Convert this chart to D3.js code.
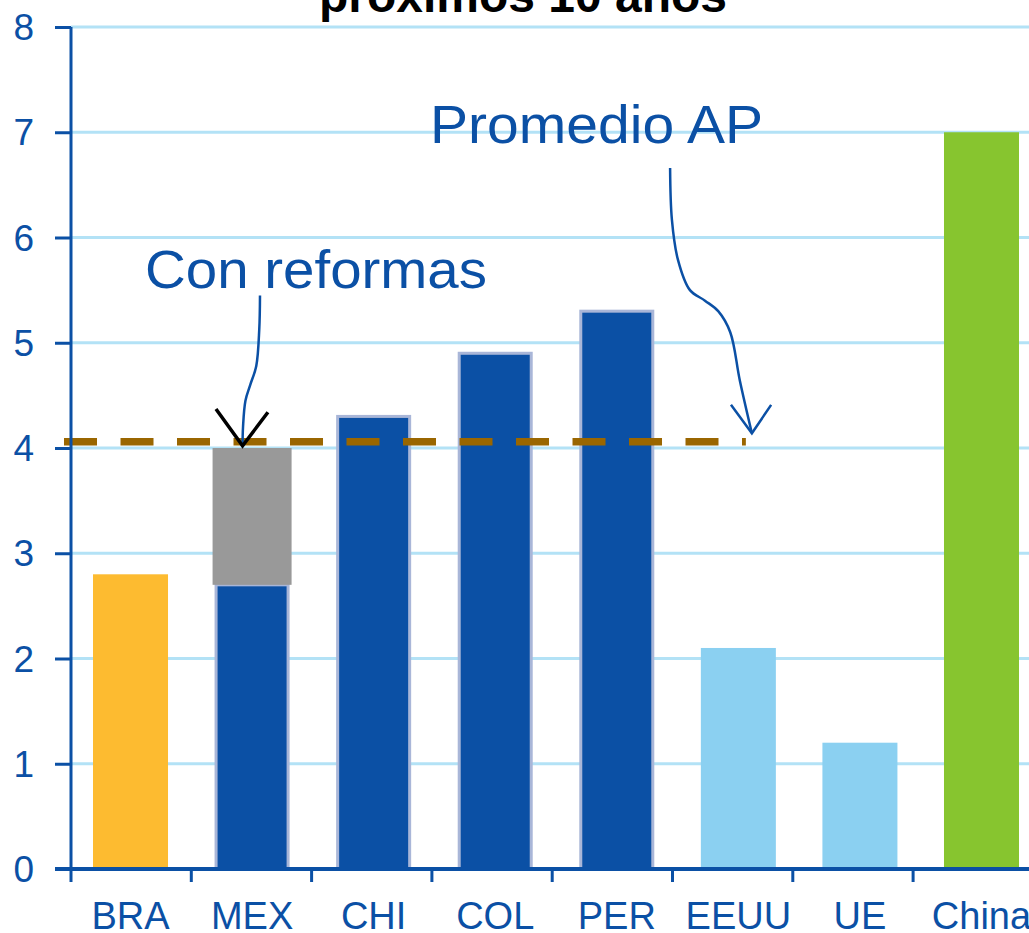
<!DOCTYPE html>
<html>
<head>
<meta charset="utf-8">
<script src="https://cdn.jsdelivr.net/npm/d3@7"></script>
<style>
  html, body { margin: 0; padding: 0; background: #ffffff; }
  svg { display: block; }
</style>
</head>
<body>
<script>
// ---- data ----
const categories = ["BRA", "MEX", "CHI", "COL", "PER", "EEUU", "UE", "China"];
const baseValues = [2.8, 2.7, 4.3, 4.9, 5.3, 2.1, 1.2, 7.0];
const reformValues = [0, 1.3, 0, 0, 0, 0, 0, 0];
const barColors = ["#fdbb30", "#0b50a5", "#0b50a5", "#0b50a5", "#0b50a5", "#8bd0f1", "#8bd0f1", "#87c52f"];
const barOutlined = [false, true, true, true, true, false, false, false];
const yTicks = [0, 1, 2, 3, 4, 5, 6, 7, 8];
const promedioAP = 4.06;
const titleText = "próximos 10 años";
const labelReformas = "Con reformas";
const labelPromedio = "Promedio AP";
// annotation curves in [category index units, value units]
const arrowReformas = [[1.571, 5.45], [1.565, 5.13], [1.54, 4.78], [1.49, 4.6], [1.45, 4.45], [1.43, 4.2], [1.426, 4.02]];
const headReformas = [[1.205, 4.37], [1.426, 4.02], [1.637, 4.34]];
const arrowPromedio = [[4.98, 6.66], [4.995, 6.17], [5.045, 5.79], [5.145, 5.5], [5.27, 5.40], [5.38, 5.3], [5.48, 5.1], [5.56, 4.64], [5.66, 4.14]];
const headPromedio = [[5.486, 4.41], [5.66, 4.14], [5.82, 4.41]];

// ---- layout ----
const W = 1029, H = 933;
const svg = d3.select("body").append("svg").attr("width", W).attr("height", H);
const blue = "#0b50a5";

// bars band scale
const x = d3.scaleBand().domain(categories).range([71, 1041]).paddingInner(0.383).paddingOuter(0.181);
// tick positions scale
const xIdx = d3.scaleLinear().domain([0, categories.length]).range([71, 1033.4]);
const y = d3.scaleLinear().domain([0, 8]).range([869, 27]);

// gridlines
svg.append("g").selectAll("line").data(yTicks.filter(d => d > 0)).join("line")
  .attr("x1", 71).attr("x2", W)
  .attr("y1", d => y(d)).attr("y2", d => y(d))
  .attr("stroke", "#b3e2f6").attr("stroke-width", 3);

// title
svg.append("text").attr("x", 523).attr("y", 12)
  .attr("text-anchor", "middle")
  .attr("font-family", "Liberation Sans, Arial, sans-serif")
  .attr("font-weight", "bold").attr("font-size", 48).attr("fill", "#000")
  .text(titleText);

// bars
const bars = categories.map((c, i) => ({ c, v: baseValues[i], r: reformValues[i], col: barColors[i], o: barOutlined[i] }));
svg.append("g").selectAll("rect").data(bars).join("rect")
  .attr("x", d => x(d.c) + (d.o ? 1.5 : 0))
  .attr("width", d => x.bandwidth() - (d.o ? 3 : 0))
  .attr("y", d => y(d.v))
  .attr("height", d => y(0) - y(d.v))
  .attr("fill", d => d.col)
  .attr("stroke", d => d.o ? "#a9b6d8" : "none")
  .attr("stroke-width", 3);

// reform segment (gray)
svg.append("g").selectAll("rect").data(bars.filter(d => d.r > 0)).join("rect")
  .attr("x", d => x(d.c) - 2)
  .attr("width", x.bandwidth() + 4)
  .attr("y", d => y(d.v + d.r))
  .attr("height", d => y(d.v) - y(d.v + d.r))
  .attr("fill", "#999999");

// average dashed line
svg.append("line")
  .attr("x1", x("BRA") - 29).attr("x2", x("EEUU") + 45)
  .attr("y1", y(promedioAP)).attr("y2", y(promedioAP))
  .attr("stroke", "#9a6600").attr("stroke-width", 7.5)
  .attr("stroke-dasharray", "33,23.5");

// axes
const yAxis = d3.axisLeft(y).tickValues(yTicks).tickSize(16).tickPadding(20).tickFormat(d3.format("d"));
const gy = svg.append("g").attr("transform", "translate(71,0)").call(yAxis);
gy.select(".domain").attr("stroke", blue).attr("stroke-width", 3).attr("d", `M0,${y(8)}V${y(0)}`);
gy.selectAll(".tick line").attr("stroke", blue).attr("stroke-width", 3);
gy.selectAll(".tick text").attr("fill", blue).attr("font-size", 37)
  .attr("font-family", "Liberation Sans, Arial, sans-serif").attr("x", -37).attr("dy", "0.34em");

const xTickPos = d3.range(categories.length + 1).map(i => xIdx(i));
const gx = svg.append("g");
gx.append("line").attr("x1", 55).attr("x2", W).attr("y1", y(0)).attr("y2", y(0))
  .attr("stroke", blue).attr("stroke-width", 4);
gx.selectAll("line.t").data(xTickPos).join("line").attr("class", "t")
  .attr("x1", d => d).attr("x2", d => d)
  .attr("y1", y(0)).attr("y2", y(0) + 13)
  .attr("stroke", blue).attr("stroke-width", 3);
gx.selectAll("text").data(categories).join("text")
  .attr("x", d => x(d) + x.bandwidth() / 2)
  .attr("y", 929)
  .attr("text-anchor", "middle")
  .attr("font-family", "Liberation Sans, Arial, sans-serif")
  .attr("font-size", 38).attr("fill", blue)
  .text(d => d);

// annotations
const toPx = p => [xIdx(p[0]), y(p[1])];
const curve = d3.line().curve(d3.curveCatmullRom);
const straight = d3.line();

svg.append("path").attr("d", curve(arrowReformas.map(toPx)))
  .attr("fill", "none").attr("stroke", blue).attr("stroke-width", 2.5);
svg.append("path").attr("d", straight(headReformas.map(toPx)))
  .attr("fill", "none").attr("stroke", "#000").attr("stroke-width", 3.5);

svg.append("path").attr("d", curve(arrowPromedio.map(toPx)))
  .attr("fill", "none").attr("stroke", blue).attr("stroke-width", 2.5);
svg.append("path").attr("d", straight(headPromedio.map(toPx)))
  .attr("fill", "none").attr("stroke", blue).attr("stroke-width", 2.5);

svg.append("text").attr("x", 145).attr("y", 288)
  .attr("font-family", "Liberation Sans, Arial, sans-serif")
  .attr("font-size", 53).attr("fill", blue)
  .attr("textLength", 342).attr("lengthAdjust", "spacingAndGlyphs")
  .text(labelReformas);
svg.append("text").attr("x", 430).attr("y", 143)
  .attr("font-family", "Liberation Sans, Arial, sans-serif")
  .attr("font-size", 53).attr("fill", blue)
  .attr("textLength", 333).attr("lengthAdjust", "spacingAndGlyphs")
  .text(labelPromedio);
</script>
</body>
</html>
